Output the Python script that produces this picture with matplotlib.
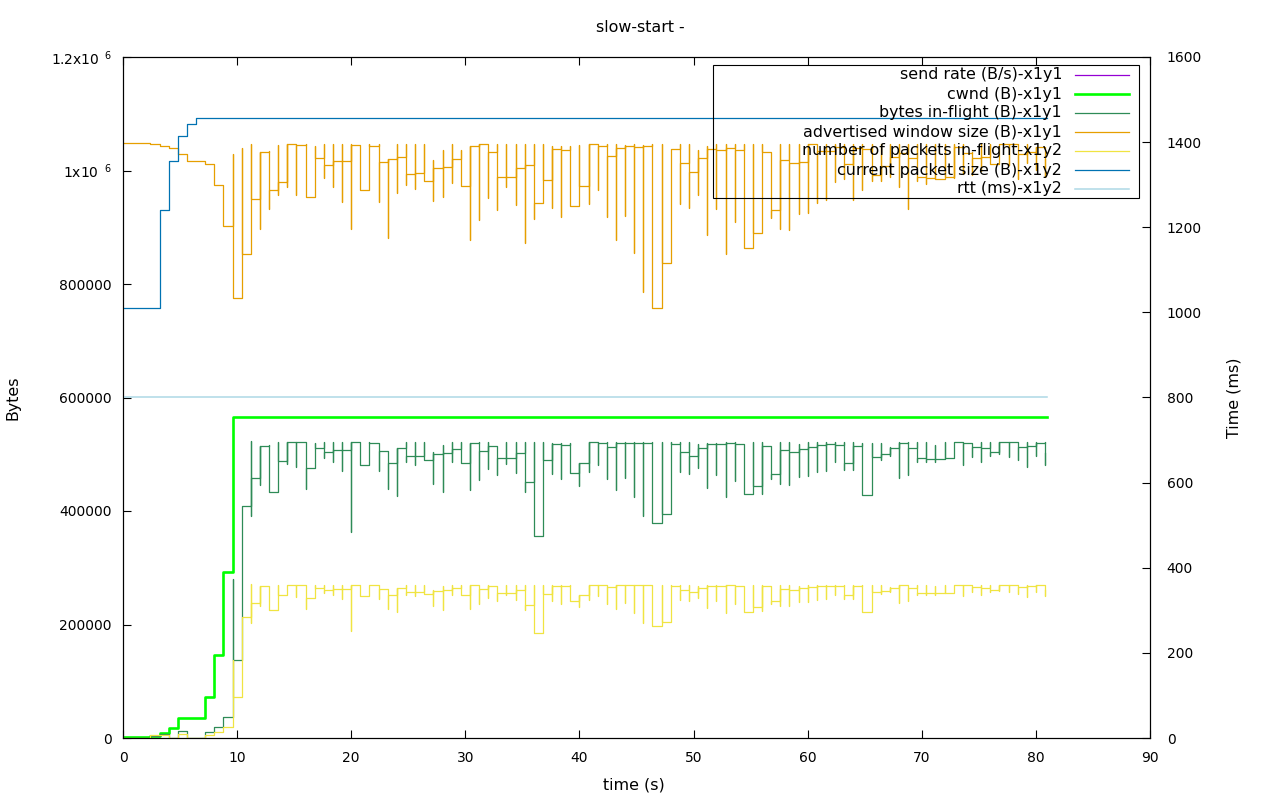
import numpy as np
import matplotlib
matplotlib.use('Agg')
import matplotlib.pyplot as plt
from matplotlib.lines import Line2D
from matplotlib.patches import Rectangle
from matplotlib.ticker import FuncFormatter, MultipleLocator

plt.rcParams['font.family'] = ['DejaVu Sans']
plt.rcParams['font.size'] = 10
TEXT_SIZE = 11.4

# samples are taken every 0.8 s; each sample has a level plus a short spike (hi / lo)
SAMPLE_STEP = 0.8

# bytes in-flight (kB)
inflight_level_kb = [
    0, 0, 0, 3.5, 7.6, 0, 11.8, 0, 0, 10.0,
    19.4, 37.0, 137.4, 408.3, 457.6, 514.3, 433.5, 487.5, 521.0, 521.0,
    475.2, 510.4, 503.4, 506.9, 506.9, 521.0, 480.5, 519.2, 505.1, 484.0,
    510.4, 496.3, 496.3, 489.3, 499.9, 501.6, 508.7, 484.0, 519.2, 505.1,
    514.0, 492.8, 492.8, 501.6, 450.5, 355.4, 489.3, 517.5, 515.7, 466.4,
    484.0, 521.0, 519.2, 512.2, 519.2, 519.2, 519.2, 519.2, 378.3, 394.1,
    517.5, 503.4, 496.3, 510.4, 517.5, 517.5, 519.2, 517.5, 429.4, 443.5,
    514.0, 464.6, 506.9, 503.4, 508.7, 512.2, 515.7, 517.5, 515.7, 484.0,
    514.0, 427.6, 494.6, 499.9, 510.4, 519.2, 510.4, 492.8, 491.1, 491.1,
    492.8, 521.0, 519.2, 512.2, 510.4, 503.4, 521.0, 521.0, 512.2, 514.0,
    519.2, 501.6]
inflight_hi_kb = [
    0, 0, 0, 3.5, 7.6, 0, 11.8, 0, 0, 10.0,
    19.4, 37.0, 279.6, 408.3, 523.0, 514.3, 515.7, 521.0, 521.0, 521.0,
    521.0, 519.2, 521.0, 521.0, 521.0, 521.0, 521.0, 521.0, 519.2, 505.1,
    510.4, 521.0, 521.0, 521.0, 503.4, 515.7, 521.0, 521.0, 519.2, 521.0,
    521.0, 514.0, 521.0, 521.0, 521.0, 521.0, 521.0, 519.2, 519.2, 519.2,
    484.0, 521.0, 521.0, 521.0, 521.0, 521.0, 521.0, 521.0, 521.0, 521.0,
    521.0, 521.0, 521.0, 517.5, 519.2, 519.2, 521.0, 521.0, 517.5, 521.0,
    521.0, 514.0, 521.0, 521.0, 517.5, 521.0, 521.0, 521.0, 521.0, 521.0,
    521.0, 519.2, 519.2, 519.2, 512.2, 521.0, 521.0, 521.0, 521.0, 515.7,
    521.0, 521.0, 521.0, 519.2, 521.0, 521.0, 521.0, 521.0, 521.0, 521.0,
    521.0, 521.0]
inflight_lo_kb = [
    0, 0, 0, 3.5, 7.6, 0, 11.8, 0, 0, 10.0,
    19.4, 37.0, 37.0, 137.4, 391.8, 446.4, 433.5, 433.5, 483.4, 478.1,
    439.4, 475.2, 492.8, 485.8, 471.1, 363.6, 480.5, 480.5, 471.1, 439.4,
    427.0, 486.9, 481.6, 489.3, 448.2, 434.1, 486.9, 484.0, 437.6, 455.2,
    474.6, 464.0, 483.4, 467.5, 434.1, 355.4, 355.4, 465.8, 457.0, 466.4,
    444.6, 469.3, 481.6, 457.0, 437.6, 458.7, 425.3, 391.8, 378.3, 378.3,
    394.1, 469.3, 465.8, 476.4, 441.1, 464.0, 425.3, 453.5, 429.4, 429.4,
    430.5, 457.0, 448.2, 446.4, 460.5, 462.3, 469.3, 471.1, 486.9, 472.8,
    472.8, 427.6, 427.6, 489.3, 496.3, 458.7, 464.0, 486.9, 486.9, 486.9,
    491.1, 492.8, 481.6, 495.0, 486.9, 496.3, 499.9, 494.6, 490.0, 478.1,
    496.3, 481.6]

# number of packets in-flight
packets_level = [
    0, 0, 0, 6, 6, 0, 9, 0, 0, 6,
    13, 25, 97, 284, 318, 356, 300, 337, 360, 360,
    329, 353, 348, 351, 351, 360, 333, 359, 350, 335,
    353, 343, 343, 339, 346, 347, 352, 335, 359, 350,
    356, 341, 341, 347, 312, 246, 339, 358, 357, 323,
    335, 360, 359, 354, 359, 359, 359, 359, 262, 273,
    358, 348, 343, 353, 358, 358, 359, 358, 297, 307,
    356, 322, 351, 348, 352, 354, 357, 358, 357, 335,
    356, 296, 342, 346, 353, 359, 353, 341, 340, 340,
    341, 360, 359, 354, 353, 348, 360, 360, 354, 356,
    359, 347]
packets_hi = [
    0, 0, 0, 6, 6, 0, 9, 0, 0, 6,
    13, 25, 183, 284, 362, 356, 357, 360, 360, 360,
    360, 359, 360, 360, 360, 360, 360, 360, 359, 350,
    353, 360, 360, 360, 348, 357, 360, 360, 359, 360,
    360, 356, 360, 360, 360, 360, 360, 359, 359, 359,
    335, 360, 360, 360, 360, 360, 360, 360, 360, 360,
    360, 360, 360, 358, 359, 359, 360, 360, 358, 360,
    360, 356, 360, 360, 358, 360, 360, 360, 360, 360,
    360, 359, 359, 359, 354, 360, 360, 360, 360, 357,
    360, 360, 360, 359, 360, 360, 360, 360, 360, 360,
    360, 360]
packets_lo = [
    0, 0, 0, 6, 6, 0, 9, 0, 0, 6,
    13, 25, 25, 97, 271, 309, 300, 300, 335, 331,
    304, 329, 341, 336, 326, 252, 333, 333, 326, 304,
    296, 337, 333, 339, 310, 300, 337, 335, 303, 315,
    328, 321, 335, 324, 300, 246, 246, 322, 316, 323,
    308, 325, 333, 316, 303, 317, 294, 271, 262, 262,
    273, 325, 322, 330, 305, 321, 294, 314, 297, 297,
    298, 316, 310, 309, 319, 320, 325, 326, 337, 327,
    327, 296, 296, 339, 343, 317, 321, 337, 337, 337,
    340, 341, 333, 343, 337, 343, 346, 342, 339, 331,
    343, 333]

# advertised window size (kB)
adv_level_kb = [
    1047.9, 1047.9, 1047.9, 1046.1, 1042.6, 1039.1, 1028.5, 1016.2, 1016.2, 1010.9,
    973.9, 901.6, 774.7, 852.3, 949.2, 1032.0, 965.0, 979.2, 1046.7, 1044.9,
    953.9, 1021.4, 1009.1, 1016.2, 1016.2, 1044.4, 965.0, 1042.6, 1014.4, 1019.7,
    1023.2, 993.2, 995.0, 980.9, 1003.8, 1005.6, 1019.7, 972.1, 1042.6, 1046.7,
    1032.0, 988.0, 988.0, 1003.8, 1009.1, 942.2, 982.7, 1037.3, 1035.6, 936.9,
    972.1, 1046.7, 1042.6, 1025.0, 1039.1, 1042.6, 1040.8, 1042.6, 757.1, 836.4,
    1037.3, 1012.6, 997.3, 1021.4, 1037.3, 1035.6, 1039.1, 1035.6, 862.8, 889.3,
    1032.0, 929.8, 1017.9, 1012.6, 1015.0, 1046.1, 1033.8, 1033.8, 1042.0, 1010.9,
    1039.1, 1037.3, 991.5, 1007.3, 1023.2, 1030.3, 1021.4, 988.0, 986.2, 984.4,
    988.0, 1042.0, 1030.3, 1021.4, 1023.2, 1010.9, 1046.1, 1046.1, 1028.5, 1032.0,
    1042.0, 1020.0]
adv_hi_kb = [
    1047.9, 1047.9, 1047.9, 1046.1, 1042.6, 1039.1, 1028.5, 1016.2, 1016.2, 1010.9,
    973.9, 901.6, 1028.5, 1039.1, 1046.1, 1032.0, 1033.8, 1044.4, 1046.7, 1044.9,
    1046.7, 1042.6, 1046.7, 1046.7, 1046.7, 1046.7, 1044.9, 1046.7, 1046.7, 1019.7,
    1046.7, 1046.7, 1046.7, 1046.7, 1017.9, 1035.6, 1046.7, 1035.6, 1042.6, 1046.7,
    1046.7, 1046.7, 1046.7, 1046.7, 1046.7, 1046.7, 1046.7, 1042.6, 1042.6, 1042.6,
    1044.4, 1046.7, 1046.7, 1046.7, 1046.7, 1044.4, 1046.7, 1044.4, 1046.7, 1046.7,
    1037.3, 1046.7, 1046.7, 1035.6, 1042.6, 1046.7, 1046.7, 1046.7, 1046.7, 1046.1,
    1046.1, 1032.0, 1046.1, 1046.1, 1046.1, 1046.1, 1046.1, 1046.1, 1046.1, 1046.1,
    1046.1, 1046.1, 1046.1, 1046.1, 1046.1, 1046.1, 1046.1, 1046.1, 1046.1, 1046.1,
    1046.1, 1046.1, 1046.1, 1032.0, 1046.1, 1046.1, 1046.1, 1046.1, 1046.1, 1046.1,
    1042.0, 1042.0]
adv_lo_kb = [
    1047.9, 1047.9, 1047.9, 1046.1, 1042.6, 1039.1, 1028.5, 1016.2, 1016.2, 1010.9,
    973.9, 901.6, 774.7, 774.7, 852.3, 896.3, 932.7, 957.4, 971.5, 957.4,
    953.9, 987.4, 987.4, 971.5, 945.1, 897.5, 965.0, 965.0, 945.1, 881.6,
    960.0, 974.4, 968.0, 980.9, 946.8, 953.9, 978.0, 972.1, 878.1, 913.4,
    952.1, 931.0, 970.9, 939.8, 872.8, 915.1, 942.2, 934.5, 918.6, 936.9,
    936.9, 941.5, 966.2, 918.6, 878.1, 920.4, 855.2, 786.5, 757.1, 757.1,
    836.4, 941.5, 934.5, 956.0, 886.9, 932.7, 853.4, 909.8, 862.8, 862.9,
    889.3, 916.9, 897.5, 895.7, 923.9, 925.7, 942.2, 947.4, 979.2, 984.4,
    947.4, 965.6, 980.9, 980.9, 988.0, 971.5, 932.7, 980.9, 977.0, 984.4,
    984.4, 986.2, 994.4, 991.5, 1000.0, 1010.9, 1010.9, 1010.0, 984.4, 1012.6,
    1000.3, 988.0]

# cwnd (kB), changes only at these times
cwnd_t = [0, 2.4, 3.2, 4.0, 4.8, 7.2, 8.0, 8.8, 9.6, 81.0]
cwnd_kb = [1.4, 4.3, 8.2, 18.2, 35.8, 72.8, 145.7, 293.0, 566.2, 566.2]

# current packet size (B)
pktsize_t = [0, 3.2, 4.0, 4.8, 5.6, 6.4, 81.0]
pktsize_b = [1010, 1240, 1355, 1414, 1442, 1456, 1456]

# rtt (ms)
rtt_t = [0, 81.0]
rtt_ms = [800, 800]

# send rate has no samples in this trace
send_rate_t = []
send_rate = []

sample_t = np.arange(len(inflight_level_kb)) * SAMPLE_STEP


def spiky(t, hi, lo, level, scale=1.0):
    xs, ys = [], []
    for ti, h, l, v in zip(t, hi, lo, level):
        xs += [ti, ti, ti]
        ys += [h * scale, l * scale, v * scale]
    return xs, ys


C_SEND = '#9400d3'
C_CWND = '#00ff00'
C_INFL = '#2e8b57'
C_ADV = '#e69f00'
C_PKTS = '#f0e442'
C_SIZE = '#0072b2'
C_RTT = '#add8e6'
LW = 0.9

W, H = 1280, 800
fig = plt.figure(figsize=(W / 100, H / 100), dpi=100)
ax = fig.add_axes([123 / W, 62 / H, 1027 / W, 681 / H])
ax2 = ax.twinx()

ax.plot(send_rate_t, send_rate, color=C_SEND, lw=LW)
ax.plot(cwnd_t, np.array(cwnd_kb) * 1000, color=C_CWND, lw=1.9, drawstyle='steps-post')
xs, ys = spiky(sample_t, inflight_hi_kb, inflight_lo_kb, inflight_level_kb, 1000)
ax.plot(xs, ys, color=C_INFL, lw=LW, drawstyle='steps-post')
xs, ys = spiky(sample_t, adv_hi_kb, adv_lo_kb, adv_level_kb, 1000)
ax.plot(xs, ys, color=C_ADV, lw=LW, drawstyle='steps-post')

xs, ys = spiky(sample_t, packets_hi, packets_lo, packets_level)
ax2.plot(xs, ys, color=C_PKTS, lw=LW, drawstyle='steps-post')
ax2.plot(pktsize_t, pktsize_b, color=C_SIZE, lw=LW, drawstyle='steps-post')
ax2.plot(rtt_t, rtt_ms, color=C_RTT, lw=1.1, drawstyle='steps-post')

ax.set_xlim(0, 90)
ax.set_ylim(0, 1.2e6)
ax2.set_ylim(0, 1600)
ax.xaxis.set_major_locator(MultipleLocator(10))
ax.yaxis.set_major_locator(MultipleLocator(200000))
ax2.yaxis.set_major_locator(MultipleLocator(200))


def bytes_fmt(v, pos):
    if v < 999999:
        return '%d' % round(v)
    return ('%g' % (v / 1e6)) + r'x10$^{\ \ 6}$'


ax.yaxis.set_major_formatter(FuncFormatter(bytes_fmt))

ax.tick_params(axis='x', direction='in', length=6, width=0.8, top=True, pad=9)
ax.tick_params(axis='y', direction='in', length=6, width=0.8, right=False, pad=8)
ax2.tick_params(axis='y', direction='in', length=6, width=0.8, pad=12)
for a in (ax, ax2):
    for s in a.spines.values():
        s.set_linewidth(0.8)

fig.text(0.5, 1 - 27 / H, 'slow-start -', ha='center', va='center', fontsize=TEXT_SIZE)
fig.text(13 / W, 1 - 398 / H, 'Bytes', rotation=90, ha='center', va='center', fontsize=TEXT_SIZE)
fig.text(1234 / W, 1 - 398 / H, 'Time (ms)', rotation=90, ha='center', va='center', fontsize=TEXT_SIZE)
fig.text(634 / W, 1 - 785 / H, 'time (s)', ha='center', va='center', fontsize=TEXT_SIZE)

# gnuplot style key: right aligned labels, sample line on the right, thin box
key = [('send rate (B/s)-x1y1', C_SEND, LW),
       ('cwnd (B)-x1y1', C_CWND, 1.9),
       ('bytes in-flight (B)-x1y1', C_INFL, LW),
       ('advertised window size (B)-x1y1', C_ADV, LW),
       ('number of packets in-flight-x1y2', C_PKTS, LW),
       ('current packet size (B)-x1y2', C_SIZE, LW),
       ('rtt (ms)-x1y2', C_RTT, 1.1)]
fig.patches.append(Rectangle((713 / W, 1 - 198 / H), 426 / W, 133 / H,
                             transform=fig.transFigure, fill=False,
                             edgecolor='black', lw=0.8, zorder=5))
for i, (label, color, lw) in enumerate(key):
    y = 1 - (75 + 19 * i) / H
    fig.text(1062 / W, y, label, ha='right', va='center', zorder=6, fontsize=TEXT_SIZE)
    fig.lines.append(Line2D([1075 / W, 1129 / W], [y, y], transform=fig.transFigure,
                            color=color, lw=lw, zorder=6))

fig.savefig('out.png', dpi=100)
